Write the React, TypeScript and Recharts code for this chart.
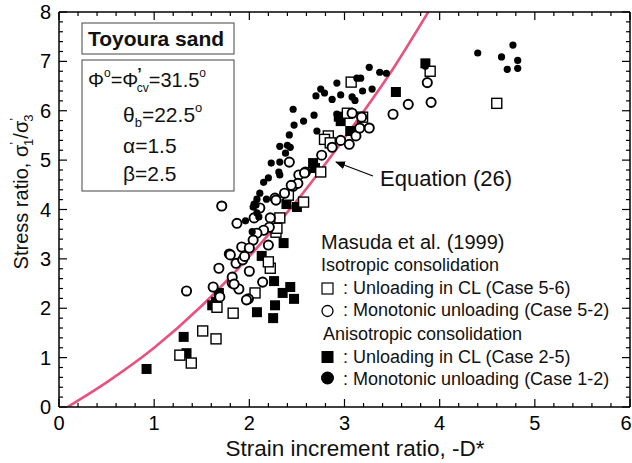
import { ComposedChart, Scatter, Line, XAxis, YAxis } from "recharts";

// Equation (26) curve
const curveX = [0.09, 0.5, 1.0, 1.5, 2.0, 2.5, 3.0, 3.5, 3.88];
const curveY = [0, 0.5, 1.2, 2.05, 3.05, 4.18, 5.45, 6.82, 8.0];

// Anisotropic consolidation, monotonic unloading (Case 1-2)
const case12 = [
  [2.57, 5.79], [2.68, 5.91], [2.71, 5.59], [2.7, 6.3], [2.75, 6.44], [2.79, 6.36],
  [2.87, 6.23], [2.92, 6.56], [2.96, 6.32], [2.92, 5.93], [3.08, 6.28], [3.11, 6.21],
  [3.13, 6.66], [3.17, 6.66], [3.19, 6.4], [3.26, 6.88], [3.29, 6.44], [3.37, 6.78],
  [3.44, 6.76], [3.85, 6.9], [4.4, 7.17], [4.65, 7.09], [4.77, 7.33], [4.71, 6.84],
  [4.82, 7.02], [4.82, 6.86], [2.46, 6.03], [2.47, 5.71], [2.42, 5.51], [2.32, 5.28],
  [2.43, 5.26], [2.4, 5.3], [2.38, 5.14], [2.23, 4.94], [2.32, 4.96], [2.31, 4.76],
  [2.32, 4.7], [2.2, 4.64], [2.15, 4.55], [2.08, 4.21], [2.05, 4.11], [2.18, 4.21],
  [2.07, 4.09], [1.96, 3.77], [2.03, 3.55], [2.11, 4.33], [2.04, 4.05], [2.08, 3.93],
  [2.1, 3.85],
];

// Isotropic consolidation, monotonic unloading (Case 5-2)
const case52 = [
  [1.71, 4.07], [1.87, 3.72], [1.34, 2.35], [1.62, 2.43], [1.68, 2.81], [1.79, 3.1],
  [1.86, 2.91], [1.92, 3.24], [2.0, 2.75], [1.82, 2.51], [1.89, 2.39], [1.99, 2.19],
  [2.14, 2.53], [2.2, 3.28], [2.22, 3.83], [2.21, 3.64], [2.15, 3.58], [2.08, 3.52],
  [2.11, 4.03], [1.69, 2.23], [1.82, 2.63], [1.84, 2.49], [1.97, 2.17], [2.04, 3.38],
  [2.27, 4.23], [2.37, 4.33], [2.42, 4.96], [2.52, 4.7], [2.59, 4.76], [2.46, 4.47],
  [2.51, 4.53], [2.76, 5.1], [2.87, 5.26], [2.05, 3.83], [2.0, 3.22], [1.93, 2.98],
  [1.8, 3.08], [2.58, 4.74], [2.96, 5.4], [3.05, 5.32], [3.12, 5.49], [3.16, 5.65],
  [3.26, 5.65], [3.08, 5.95], [3.18, 5.87], [3.51, 5.93], [3.67, 6.13], [3.87, 6.57],
  [3.91, 6.17], [2.44, 4.49], [2.28, 4.19], [1.95, 3.05],
];

// Isotropic consolidation, unloading in CL (Case 5-6)
const case56 = [
  [1.27, 1.05], [1.39, 0.89], [1.51, 1.54], [1.65, 1.38], [1.66, 2.02], [1.83, 1.9],
  [2.06, 2.31], [2.22, 2.81], [2.2, 2.94], [2.28, 3.54], [2.32, 3.83], [2.57, 4.15],
  [2.29, 3.62], [2.41, 4.29], [2.83, 5.49], [2.79, 5.42], [2.75, 4.76], [3.03, 5.95],
  [3.07, 6.58], [3.19, 5.87], [3.9, 6.8], [4.6, 6.15], [2.85, 5.35],
];

// Anisotropic consolidation, unloading in CL (Case 2-5)
const case25 = [
  [0.92, 0.77], [1.31, 1.42], [1.34, 1.09], [1.61, 2.06], [1.68, 2.31], [1.65, 2.13],
  [2.08, 1.92], [2.26, 2.55], [2.27, 2.06], [2.25, 1.8], [2.35, 2.31], [2.43, 2.43],
  [2.47, 2.19], [2.13, 3.06], [2.36, 3.32], [2.39, 4.11], [2.5, 4.05], [2.67, 4.94],
  [2.69, 4.84], [2.96, 5.79], [3.06, 5.59], [3.54, 6.38], [3.85, 6.96], [2.94, 5.88],
];

const xTicks = [0, 0.2, 0.4, 0.6, 0.8, 1, 1.2, 1.4, 1.6, 1.8, 2, 2.2, 2.4, 2.6, 2.8, 3, 3.2, 3.4, 3.6, 3.8, 4, 4.2, 4.4, 4.6, 4.8, 5, 5.2, 5.4, 5.6, 5.8, 6];
const yTicks = [0, 0.2, 0.4, 0.6, 0.8, 1, 1.2, 1.4, 1.6, 1.8, 2, 2.2, 2.4, 2.6, 2.8, 3, 3.2, 3.4, 3.6, 3.8, 4, 4.2, 4.4, 4.6, 4.8, 5, 5.2, 5.4, 5.6, 5.8, 6, 6.2, 6.4, 6.6, 6.8, 7, 7.2, 7.4, 7.6, 7.8, 8];

const FONT = '"Liberation Sans", Arial, Helvetica, sans-serif';
const PINK = "#e9527f";

const toPts = (arr: number[][]) => arr.map(([x, y]) => ({ x, y }));
const curve = curveX.map((x, i) => ({ x, y: curveY[i] }));

const isMajor = (v: number) => Math.abs(v - Math.round(v)) < 1e-6;
const tickLen = (v: number) => (isMajor(v) ? 8 : 4);

const BottomTick = (p: any) => {
  const v = p.payload.value;
  // last label sits against the right edge, as in the figure
  const dx = v === 6 ? -4 : 0;
  return (
    <g>
      <line x1={p.x} y1={p.y} x2={p.x} y2={p.y - tickLen(v)} stroke="#000" strokeWidth={1.2} />
      {isMajor(v) && (
        <text x={p.x + dx} y={p.y + 23} textAnchor="middle" fontSize={20} fontFamily={FONT} fill="#000">
          {Math.round(v)}
        </text>
      )}
    </g>
  );
};
const TopTick = (p: any) => (
  <line x1={p.x} y1={p.y} x2={p.x} y2={p.y + tickLen(p.payload.value)} stroke="#000" strokeWidth={1.2} />
);
const LeftTick = (p: any) => {
  const v = p.payload.value;
  return (
    <g>
      <line x1={p.x} y1={p.y} x2={p.x + tickLen(v)} y2={p.y} stroke="#000" strokeWidth={1.2} />
      {isMajor(v) && (
        <text x={p.x - 8} y={p.y + 7} textAnchor="end" fontSize={20} fontFamily={FONT} fill="#000">
          {Math.round(v)}
        </text>
      )}
    </g>
  );
};
const RightTick = (p: any) => (
  <line x1={p.x} y1={p.y} x2={p.x - tickLen(p.payload.value)} y2={p.y} stroke="#000" strokeWidth={1.2} />
);

const FilledDot = (p: any) => <circle cx={p.cx} cy={p.cy} r={3.6} fill="#000" />;
const OpenDot = (p: any) => <circle cx={p.cx} cy={p.cy} r={4.6} fill="#fff" stroke="#000" strokeWidth={1.9} />;
const OpenSq = (p: any) => <rect x={p.cx - 5} y={p.cy - 5} width={10} height={10} fill="#fff" stroke="#000" strokeWidth={1.4} />;
const FilledSq = (p: any) => <rect x={p.cx - 5} y={p.cy - 5} width={10} height={10} fill="#000" />;

const axisLine = { stroke: "#000", strokeWidth: 1.5 };

function Overlay() {
  const t = { fontFamily: FONT, fill: "#111" };
  return (
    <svg width={632} height={463} style={{ position: "absolute", left: 0, top: 0, pointerEvents: "none" }}>
      <defs>
        <marker id="ah" markerWidth="10" markerHeight="8" refX="9" refY="4" orient="auto" markerUnits="userSpaceOnUse">
          <path d="M0,0 L10,4 L0,8 z" fill="#000" />
        </marker>
      </defs>
      {/* parameter boxes */}
      <rect x={82} y={23} width={152} height={31} fill="#fff" stroke="#444" strokeWidth={1} />
      <text x={88} y={46} fontSize={21} fontWeight="bold" {...t}>Toyoura sand</text>
      <rect x={82} y={60} width={152} height={131} fill="#fff" stroke="#444" strokeWidth={1} />
      <text x={88} y={87} fontSize={20} {...t}>
        <tspan>Φ</tspan>
        <tspan fontSize={12} dy={-10}>o</tspan>
        <tspan dy={10}>=Φ</tspan>
        <tspan fontSize={16} fontWeight="bold" dy={-7} dx={-1}>’</tspan>
        <tspan fontSize={12} dy={12} dx={-5}>cv</tspan>
        <tspan dy={-5}>=31.5</tspan>
        <tspan fontSize={12} dy={-10}>o</tspan>
      </text>
      <text x={123} y={122} fontSize={21} {...t}>
        <tspan>θ</tspan>
        <tspan fontSize={13} dy={5}>b</tspan>
        <tspan dy={-5}>=22.5</tspan>
        <tspan fontSize={13} dy={-10}>o</tspan>
      </text>
      <text x={123} y={153} fontSize={21} {...t}>α=1.5</text>
      <text x={123} y={181} fontSize={21} {...t}>β=2.5</text>

      {/* equation label */}
      <line x1={373} y1={176} x2={336} y2={162} stroke="#000" strokeWidth={1.2} markerEnd="url(#ah)" />
      <text x={380} y={186} fontSize={22} {...t}>Equation (26)</text>

      {/* legend */}
      <text x={321} y={249} fontSize={20} {...t}>Masuda et al. (1999)</text>
      <text x={321} y={271} fontSize={18} {...t}>Isotropic consolidation</text>
      <rect x={322} y={283} width={11} height={11} fill="#fff" stroke="#000" strokeWidth={1.2} />
      <text x={343} y={294} fontSize={18} {...t}>: Unloading in CL (Case 5-6)</text>
      <circle cx={327.5} cy={311} r={5.5} fill="#fff" stroke="#000" strokeWidth={1.3} />
      <text x={343} y={316} fontSize={18} {...t}>: Monotonic unloading (Case 5-2)</text>
      <text x={323} y={340} fontSize={18} {...t}>Anisotropic consolidation</text>
      <rect x={321.5} y={351} width={12} height={12} fill="#000" />
      <text x={343} y={363} fontSize={18} {...t}>: Unloading in CL (Case 2-5)</text>
      <circle cx={327.5} cy={378} r={6.5} fill="#000" />
      <text x={343} y={385} fontSize={18} {...t}>: Monotonic unloading (Case 1-2)</text>

      {/* axis titles */}
      <text x={355} y={456} fontSize={22.5} textAnchor="middle" {...t}>Strain increment ratio, -D*</text>
      <text transform="translate(28,192) rotate(-90)" fontSize={20} textAnchor="middle" {...t}>
        <tspan>Stress ratio, σ</tspan>
        <tspan fontSize={13} dy={-9}>’</tspan>
        <tspan fontSize={13} dy={14} dx={-4}>1</tspan>
        <tspan dy={-5}>/σ</tspan>
        <tspan fontSize={13} dy={-9}>’</tspan>
        <tspan fontSize={13} dy={14} dx={-4}>3</tspan>
      </text>
    </svg>
  );
}

export default function App() {
  return (
    <div style={{ position: "absolute", left: 0, top: 0, width: 632, height: 463, background: "#fff" }}>
      <ComposedChart width={632} height={463} margin={{ top: 11, right: 1, bottom: 55, left: 58 }}>
        <XAxis dataKey="x" type="number" domain={[0, 6]} ticks={xTicks} interval={0} allowDataOverflow
          height={1} tickSize={0} tickMargin={0} tickLine={false} axisLine={axisLine} tick={BottomTick} />
        <XAxis xAxisId="top" orientation="top" dataKey="x" type="number" domain={[0, 6]} ticks={xTicks} interval={0}
          allowDataOverflow height={1} tickSize={0} tickMargin={0} tickLine={false} axisLine={axisLine} tick={TopTick} />
        <YAxis dataKey="y" type="number" domain={[0, 8]} ticks={yTicks} interval={0} allowDataOverflow
          width={1} tickSize={0} tickMargin={0} tickLine={false} axisLine={axisLine} tick={LeftTick} />
        <YAxis yAxisId="right" orientation="right" dataKey="y" type="number" domain={[0, 8]} ticks={yTicks} interval={0}
          allowDataOverflow width={1} tickSize={0} tickMargin={0} tickLine={false} axisLine={axisLine} tick={RightTick} />
        <Scatter data={toPts(case25)} shape={FilledSq} isAnimationActive={false} />
        <Scatter data={toPts(case56)} shape={OpenSq} isAnimationActive={false} />
        <Scatter data={toPts(case52)} shape={OpenDot} isAnimationActive={false} />
        <Scatter data={toPts(case12)} shape={FilledDot} isAnimationActive={false} />
        <Line data={curve} dataKey="y" type="monotone" dot={false} stroke={PINK} strokeWidth={2.6} isAnimationActive={false} />
      </ComposedChart>
      <Overlay />
    </div>
  );
}
